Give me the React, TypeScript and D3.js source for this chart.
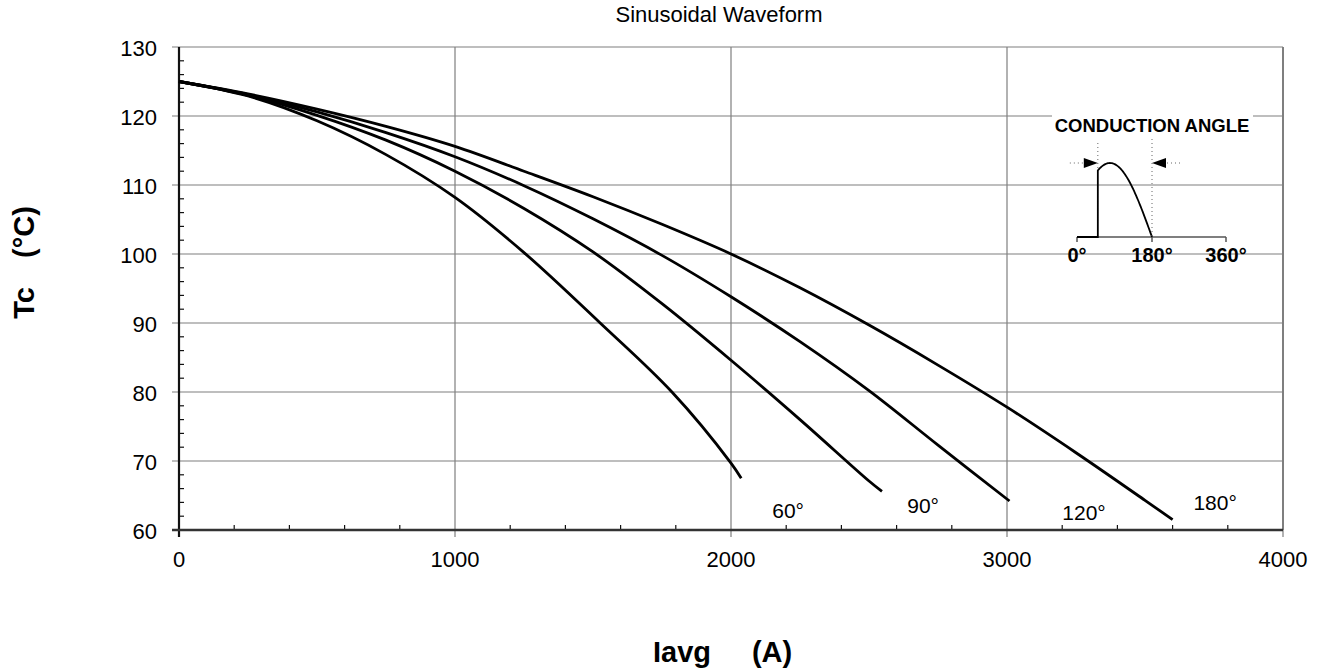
import { useEffect, useRef } from 'react';
import * as d3 from 'd3';

// curvas Tc vs Iavg
const iavg60 = [0, 250, 500, 750, 1000, 1250, 1526, 1786, 2000, 2037];
const tc60 = [125, 122.9, 119.3, 114.4, 108.2, 100.2, 90, 80, 69.7, 67.5];

const iavg90 = [0, 250, 500, 750, 1000, 1250, 1500, 1750, 2000, 2250, 2500, 2547];
const tc90 = [125, 123.0, 120.1, 116.5, 112, 106.6, 100.3, 92.8, 84.6, 76.0, 67.1, 65.6];

const iavg120 = [0, 250, 500, 750, 1000, 1250, 1500, 1750, 2000, 2250, 2500, 2750, 3009];
const tc120 = [125, 123.1, 120.6, 117.6, 114.1, 109.9, 105.1, 99.8, 93.8, 87.3, 80.2, 72.3, 64.2];

const iavg180 = [0, 250, 500, 750, 1000, 1250, 1500, 1750, 2000, 2250, 2500, 2750, 3000, 3250, 3500, 3600];
const tc180 = [125, 123.2, 121.0, 118.5, 115.6, 112.0, 108.3, 104.3, 100, 95.1, 89.7, 83.9, 77.8, 71.2, 64.3, 61.5];

const seriesNames = ['60°', '90°', '120°', '180°'];
// posición de las etiquetas (Iavg, Tc)
const labelIavg = [2207, 2696, 3279, 3754];
const labelTc = [61.7, 62.5, 61.5, 62.9];

const xTicks = [0, 1000, 2000, 3000, 4000];
const yTicks = [60, 70, 80, 90, 100, 110, 120, 130];
const angleTicks = [0, 180, 360];

export default function App() {
  const chartRef = useRef<SVGSVGElement>(null);

  useEffect(() => {
    const width = 1319;
    const height = 670;
    const font = 'Liberation Sans, Arial, Helvetica, sans-serif';

    const svg = d3.select(chartRef.current);
    svg.selectAll('*').remove();
    svg.attr('width', width).attr('height', height);

    const x = d3.scaleLinear().domain([0, 4000]).range([179, 1283]);
    const y = d3.scaleLinear().domain([60, 130]).range([530, 47]);

    // rejilla
    const grid = svg.append('g').attr('stroke', '#7f7f7f').attr('stroke-width', 1.2);
    yTicks.filter(t => t > 60).forEach(t => {
      grid.append('line')
        .attr('x1', x(0) - 7).attr('x2', x(4000))
        .attr('y1', y(t)).attr('y2', y(t));
    });
    xTicks.filter(t => t > 0).forEach(t => {
      grid.append('line')
        .attr('x1', x(t)).attr('x2', x(t))
        .attr('y1', y(130)).attr('y2', y(60) + 7);
    });
    // borde derecho
    grid.append('line')
      .attr('x1', x(4000)).attr('x2', x(4000))
      .attr('y1', y(130)).attr('y2', y(60))
      .attr('stroke-width', 2);

    // ticks menores
    const minor = svg.append('g').attr('stroke', '#111').attr('stroke-width', 1.2);
    d3.range(62, 130, 2).filter(t => t % 10 !== 0).forEach(t => {
      minor.append('line')
        .attr('x1', x(0)).attr('x2', x(0) + 5)
        .attr('y1', y(t)).attr('y2', y(t));
    });
    d3.range(200, 4000, 200).filter(t => t % 1000 !== 0).forEach(t => {
      minor.append('line')
        .attr('x1', x(t)).attr('x2', x(t))
        .attr('y1', y(60)).attr('y2', y(60) - 5);
    });

    // ejes
    svg.append('line')
      .attr('x1', x(0)).attr('x2', x(0))
      .attr('y1', y(130)).attr('y2', y(60) + 7)
      .attr('stroke', '#111').attr('stroke-width', 2.2);
    svg.append('line')
      .attr('x1', x(0) - 7).attr('x2', x(4000))
      .attr('y1', y(60)).attr('y2', y(60))
      .attr('stroke', '#333').attr('stroke-width', 2.6);

    // etiquetas de ticks
    svg.append('g').selectAll('text')
      .data(yTicks)
      .enter().append('text')
      .attr('x', 157)
      .attr('y', d => y(d))
      .attr('dy', '0.43em')
      .attr('text-anchor', 'end')
      .style('font-family', font)
      .style('font-size', '22px')
      .text(d => d);

    svg.append('g').selectAll('text')
      .data(xTicks)
      .enter().append('text')
      .attr('x', d => x(d))
      .attr('y', 567)
      .attr('text-anchor', 'middle')
      .style('font-family', font)
      .style('font-size', '22px')
      .text(d => d);

    // curvas
    const series = [
      [iavg60, tc60],
      [iavg90, tc90],
      [iavg120, tc120],
      [iavg180, tc180],
    ];
    const path = d3.line<[number, number]>()
      .x(d => x(d[0]))
      .y(d => y(d[1]))
      .curve(d3.curveCatmullRom.alpha(0.5));

    series.forEach(([xs, ys]) => {
      const pts = xs.map((v, i) => [v, ys[i]] as [number, number]);
      svg.append('path')
        .attr('d', path(pts))
        .attr('fill', 'none')
        .attr('stroke', '#000')
        .attr('stroke-width', 2.8);
    });

    // etiquetas de curvas
    svg.append('g').selectAll('text')
      .data(seriesNames)
      .enter().append('text')
      .attr('x', (d, i) => x(labelIavg[i]))
      .attr('y', (d, i) => y(labelTc[i]))
      .attr('text-anchor', 'middle')
      .style('font-family', font)
      .style('font-size', '21px')
      .text(d => d);

    // título y ejes
    svg.append('text')
      .attr('x', 719).attr('y', 22)
      .attr('text-anchor', 'middle')
      .style('font-family', font)
      .style('font-size', '22px')
      .text('Sinusoidal Waveform');

    const bold = (t: string, tx: number, ty: number, rot: boolean) =>
      svg.append('text')
        .attr('transform', rot ? `translate(${tx},${ty}) rotate(-90)` : `translate(${tx},${ty})`)
        .attr('text-anchor', 'middle')
        .style('font-family', font)
        .style('font-size', '29px')
        .style('font-weight', 'bold')
        .text(t);
    bold('Iavg', 682, 662, false);
    bold('(A)', 772, 662, false);
    bold('Tc', 34, 303, true);
    bold('(°C)', 34, 232, true);

    // recuadro "conduction angle"
    const a = d3.scaleLinear().domain([0, 180, 360]).range([1077, 1152, 1226]);
    const base = 237;
    const amp = 74;
    const start = 50;
    const phase0 = 64;
    const inset = svg.append('g');

    inset.append('rect')
      .attr('x', 1052).attr('y', 111)
      .attr('width', 201).attr('height', 26)
      .attr('fill', '#fff');
    inset.append('text')
      .attr('x', 1152).attr('y', 131.5)
      .attr('text-anchor', 'middle')
      .style('font-family', font)
      .style('font-size', '18.5px')
      .style('font-weight', 'bold')
      .text('CONDUCTION ANGLE');

    // eje de ángulo
    inset.append('line')
      .attr('x1', a(0)).attr('x2', a(360))
      .attr('y1', base).attr('y2', base)
      .attr('stroke', '#555').attr('stroke-width', 1.5);
    angleTicks.forEach(t => {
      inset.append('line')
        .attr('x1', a(t)).attr('x2', a(t))
        .attr('y1', base).attr('y2', base + 5)
        .attr('stroke', '#555').attr('stroke-width', 1.5);
    });
    inset.append('g').selectAll('text')
      .data(angleTicks)
      .enter().append('text')
      .attr('x', d => a(d))
      .attr('y', 261.5)
      .attr('text-anchor', 'middle')
      .style('font-family', 'Liberation Sans Narrow, Arial Narrow, sans-serif')
      .style('font-size', '20px')
      .style('font-weight', 'bold')
      .text(d => `${d}°`);

    // forma de onda (media senoide recortada)
    const ph = d3.scaleLinear().domain([phase0, 180]).range([a(start), a(180)]);
    const wave: [number, number][] = [[a(0), base], [a(start), base]];
    d3.range(phase0, 181, 2).forEach(t => {
      wave.push([ph(t), base - amp * Math.sin((t * Math.PI) / 180)]);
    });
    inset.append('path')
      .attr('d', d3.line()(wave))
      .attr('fill', 'none')
      .attr('stroke', '#000')
      .attr('stroke-width', 1.8);

    // líneas punteadas y flechas
    const topY = base - amp * Math.sin((phase0 * Math.PI) / 180);
    const dotted = { stroke: '#666', width: 1, dash: '1,3' };
    [[a(start), 143, topY], [a(180), 139, base]].forEach(([lx, y1, y2]) => {
      inset.append('line')
        .attr('x1', lx).attr('x2', lx)
        .attr('y1', y1).attr('y2', y2)
        .attr('stroke', dotted.stroke)
        .attr('stroke-width', dotted.width)
        .attr('stroke-dasharray', dotted.dash);
    });
    const ay = 163;
    inset.append('line')
      .attr('x1', a(start) - 28).attr('x2', a(start) - 15)
      .attr('y1', ay).attr('y2', ay)
      .attr('stroke', dotted.stroke).attr('stroke-dasharray', dotted.dash);
    inset.append('path')
      .attr('d', `M${a(start) - 14},${ay - 5}L${a(start)},${ay}L${a(start) - 14},${ay + 5}Z`)
      .attr('fill', '#000');
    inset.append('path')
      .attr('d', `M${a(180) + 14},${ay - 5}L${a(180)},${ay}L${a(180) + 14},${ay + 5}Z`)
      .attr('fill', '#000');
    inset.append('line')
      .attr('x1', a(180) + 15).attr('x2', a(180) + 28)
      .attr('y1', ay).attr('y2', ay)
      .attr('stroke', dotted.stroke).attr('stroke-dasharray', dotted.dash);
  }, []);

  return (
    <svg ref={chartRef} style={{ display: 'block', position: 'absolute', left: 0, top: 0 }} />
  );
}
